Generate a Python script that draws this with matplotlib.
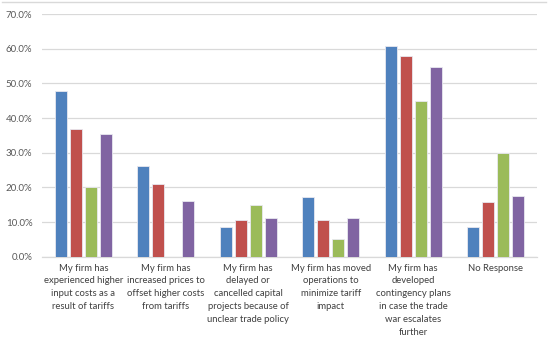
import numpy as np
import matplotlib.pyplot as plt
from matplotlib.lines import Line2D
from matplotlib.ticker import FuncFormatter

categories = [
    "My firm has\nexperienced higher\ninput costs as a\nresult of tariffs",
    "My firm has\nincreased prices to\noffset higher costs\nfrom tariffs",
    "My firm has\ndelayed or\ncancelled capital\nprojects because of\nunclear trade policy",
    "My firm has moved\noperations to\nminimize tariff\nimpact",
    "My firm has\ndeveloped\ncontingency plans\nin case the trade\nwar escalates\nfurther",
    "No Response",
]

# four survey series, shares of respondents
series_1 = [0.479, 0.261, 0.086, 0.173, 0.609, 0.086]
series_2 = [0.368, 0.210, 0.105, 0.105, 0.579, 0.158]
series_3 = [0.200, 0.000, 0.150, 0.050, 0.450, 0.300]
series_4 = [0.355, 0.161, 0.113, 0.113, 0.548, 0.176]

colors = ["#4F81BD", "#C0504D", "#9BBB59", "#8064A2"]

plt.rcParams['font.family'] = ['Lato', 'DejaVu Sans']

fig = plt.figure(figsize=(5.5, 3.43), dpi=100)
ax = fig.add_axes([0.0764, 0.2516, 0.8996, 0.7074])

x = np.arange(len(categories))
width = 0.145
step = 0.182
for i, (vals, c) in enumerate(zip([series_1, series_2, series_3, series_4], colors)):
    ax.bar(x + (i - 1.5) * step, vals, width, color=c, edgecolor="#E8E8F0", linewidth=0.6, zorder=3)

ax.set_xlim(-0.5, len(categories) - 0.5)
ax.set_ylim(0, 0.7)
ax.set_yticks(np.arange(0, 0.71, 0.1))
ax.yaxis.set_major_formatter(FuncFormatter(lambda v, p: f"{v * 100:.1f}%"))
ax.grid(axis="y", color="#D9D9D9", linewidth=0.9, zorder=0)

for s in ["top", "right", "left"]:
    ax.spines[s].set_visible(False)
ax.spines["bottom"].set_color("#D9D9D9")
ax.spines["bottom"].set_linewidth(0.9)

ax.set_xticks(x)
ax.set_xticklabels(categories, fontsize=6.8, color="#404040", va="top", linespacing=1.55)
ax.tick_params(axis="x", length=0, pad=5)
ax.tick_params(axis="y", length=0, pad=7, labelsize=7, labelcolor="#595959")

# chart-area frame line along the top
fig.add_artist(Line2D([0.004, 0.992], [0.995, 0.995], color="#D9D9D9", linewidth=1.0))

fig.savefig("out.png", dpi=100)
